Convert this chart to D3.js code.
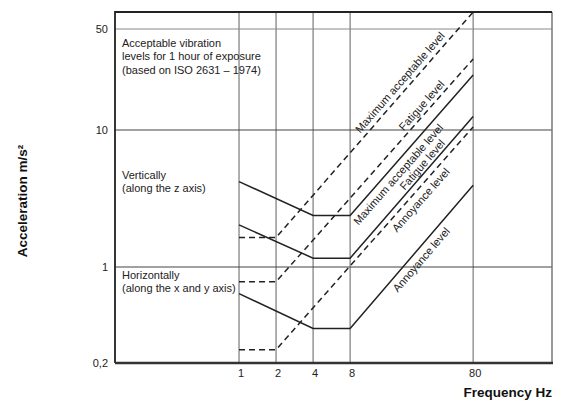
<!DOCTYPE html>
<html>
<head>
<meta charset="utf-8">
<script src="https://cdn.jsdelivr.net/npm/d3@7"></script>
<style>
  body { margin: 0; background: #fff; }
  svg { display: block; font-family: "Liberation Sans", Arial, sans-serif; }
</style>
</head>
<body>
<svg id="chart" width="561" height="405"></svg>
<script>
// tick values
const freqTicks = [1, 2, 4, 8, 80];
const accelTicks = [0.2, 1, 10, 50];
const accelTickLabels = ["0,2", "1", "10", "50"];

// vertical (z axis) curves, solid
const zFreq = [1, 4, 8, 80];
const zMaxAcceptable = [4.2, 2.38, 2.38, 24];
const zFatigue = [2.03, 1.16, 1.16, 12.4];
const zAnnoyance = [0.64, 0.357, 0.357, 3.95];

// horizontal (x and y axis) curves, dashed
const xyFreq = [1, 2, 80];
const xyMaxAcceptable = [1.64, 1.64, 65];
const xyFatigue = [0.78, 0.78, 31];
const xyAnnoyance = [0.25, 0.25, 10.5];

const series = [
  { key: "xyMax", freq: xyFreq, values: xyMaxAcceptable, dashed: true },
  { key: "xyFatigue", freq: xyFreq, values: xyFatigue, dashed: true },
  { key: "xyAnnoy", freq: xyFreq, values: xyAnnoyance, dashed: true },
  { key: "zMax", freq: zFreq, values: zMaxAcceptable, dashed: false },
  { key: "zFatigue", freq: zFreq, values: zFatigue, dashed: false },
  { key: "zAnnoy", freq: zFreq, values: zAnnoyance, dashed: false },
];

// labels written along the rising part of each curve
const lineLabels = [
  { key: "xyMax", text: "Maximum acceptable level", freq: 23, offset: -9 },
  { key: "xyFatigue", text: "Fatigue level", freq: 34, offset: -8 },
  { key: "zMax", text: "Maximum acceptable level", freq: 17.3, offset: 9 },
  { key: "zFatigue", text: "Fatigue level", freq: 34, offset: -7 },
  { key: "xyAnnoy", text: "Annoyance level", freq: 26.4, offset: 9 },
  { key: "zAnnoy", text: "Annoyance level", freq: 26.6, offset: 9 },
];

const svg = d3.select("#chart");
const plotLeft = 115, plotRight = 552, plotTop = 12, plotBottom = 363;

const x = d3.scaleLog().domain([0.1, 350]).range([116, plotRight]);
// the printed axis is not quite uniform, so it is mapped piecewise
const y = d3.scaleLog().domain([0.2, 1, 10, 50, 65]).range([plotBottom, 267, 130, 29, plotTop]);

// grid
svg.append("g")
  .selectAll("line")
  .data(freqTicks)
  .join("line")
  .attr("x1", d => x(d)).attr("x2", d => x(d))
  .attr("y1", plotTop).attr("y2", plotBottom)
  .attr("stroke", "#7a7a7a")
  .attr("stroke-width", 1.2);

svg.append("g")
  .selectAll("line")
  .data(accelTicks.slice(1))
  .join("line")
  .attr("x1", plotLeft).attr("x2", plotRight)
  .attr("y1", d => y(d)).attr("y2", d => y(d))
  .attr("stroke", d => d === 50 ? "#8a8a8a" : "#444")
  .attr("stroke-width", 1.2);

// frame
svg.append("path")
  .attr("d", `M${plotRight},${plotTop}V${plotBottom}`)
  .attr("stroke", "#777").attr("stroke-width", 1.5).attr("fill", "none");
svg.append("path")
  .attr("d", `M${plotLeft},${plotBottom}V${plotTop}H${plotRight}`)
  .attr("stroke", "#222").attr("stroke-width", 1.8).attr("fill", "none");
svg.append("path")
  .attr("d", `M${plotLeft},${plotBottom}H${plotRight + 1}`)
  .attr("stroke", "#333").attr("stroke-width", 2.5).attr("fill", "none");

// curves
const line = d3.line().x(d => x(d[0])).y(d => y(d[1]));

svg.append("g")
  .selectAll("path")
  .data(series)
  .join("path")
  .attr("d", s => line(d3.zip(s.freq, s.values)))
  .attr("fill", "none")
  .attr("stroke", "#222")
  .attr("stroke-width", 1.5)
  .attr("stroke-dasharray", s => s.dashed ? "6,4" : null);

// curve labels
function pointOn(s, f) {
  const pts = d3.zip(s.freq, s.values).map(d => [x(d[0]), y(d[1])]);
  const px = x(f);
  let i = pts.findIndex((p, j) => j > 0 && p[0] >= px);
  if (i < 1) i = pts.length - 1;
  const a = pts[i - 1], b = pts[i];
  const t = (px - a[0]) / (b[0] - a[0]);
  const angle = Math.atan2(b[1] - a[1], b[0] - a[0]) * 180 / Math.PI;
  return { x: px, y: a[1] + t * (b[1] - a[1]), angle };
}

svg.append("g")
  .selectAll("text")
  .data(lineLabels)
  .join("text")
  .attr("transform", d => {
    const p = pointOn(series.find(s => s.key === d.key), d.freq);
    return `translate(${p.x},${p.y}) rotate(${p.angle})`;
  })
  .attr("dy", d => d.offset)
  .attr("dominant-baseline", "central")
  .attr("text-anchor", "middle")
  .attr("font-size", 11)
  .attr("fill", "#222")
  .text(d => d.text);

// tick labels
svg.append("g")
  .selectAll("text")
  .data(accelTicks)
  .join("text")
  .attr("x", 108)
  .attr("y", d => y(d))
  .attr("dy", "0.35em")
  .attr("text-anchor", "end")
  .attr("font-size", 11)
  .attr("fill", "#222")
  .text((d, i) => accelTickLabels[i]);

svg.append("g")
  .selectAll("text")
  .data(freqTicks)
  .join("text")
  .attr("x", d => x(d) + 2)
  .attr("y", 377)
  .attr("text-anchor", "middle")
  .attr("font-size", 11)
  .attr("fill", "#222")
  .text(d => d);

// notes inside the plot
const notes = [
  { y: 47, lines: ["Acceptable vibration", "levels for 1 hour of exposure", "(based on ISO 2631 \u2013 1974)"] },
  { y: 179, lines: ["Vertically", "(along the z axis)"] },
  { y: 279, lines: ["Horizontally", "(along the x and y axis)"] },
];
notes.forEach(n => {
  svg.append("text")
    .attr("x", 122)
    .attr("y", n.y)
    .attr("font-size", 11)
    .attr("fill", "#222")
    .selectAll("tspan")
    .data(n.lines)
    .join("tspan")
    .attr("x", 122)
    .attr("dy", (d, i) => i === 0 ? 0 : 13.3)
    .text(d => d);
});

// axis titles
svg.append("text")
  .attr("x", plotRight)
  .attr("y", 397)
  .attr("text-anchor", "end")
  .attr("font-size", 13.5)
  .attr("font-weight", "bold")
  .attr("fill", "#111")
  .text("Frequency Hz");

svg.append("text")
  .attr("transform", "translate(27,201) rotate(-90)")
  .attr("text-anchor", "middle")
  .attr("font-size", 13.5)
  .attr("font-weight", "bold")
  .attr("fill", "#111")
  .text("Acceleration m/s\u00b2");
</script>
</body>
</html>
